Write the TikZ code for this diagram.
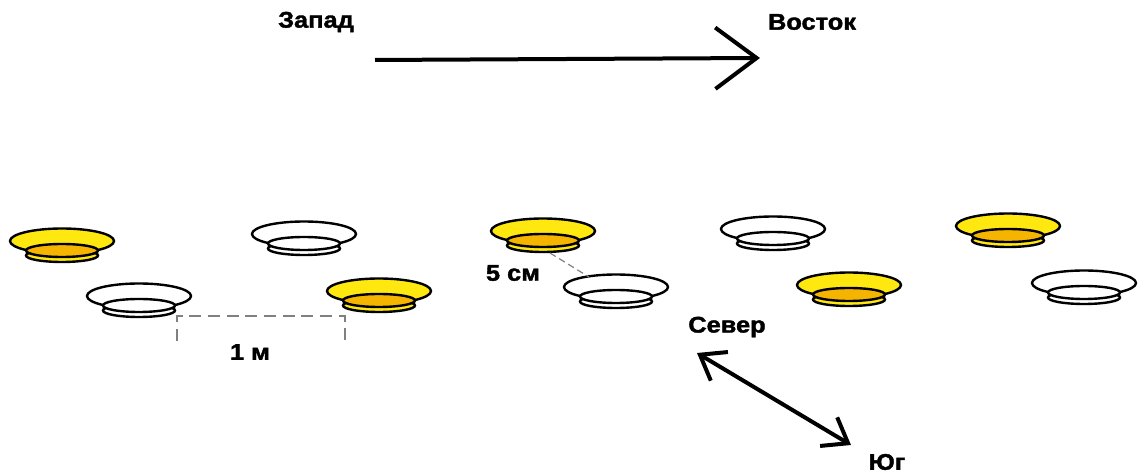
\documentclass[tikz,border=0pt]{standalone}
\usepackage{fontspec}
\setmainfont{Liberation Sans}[BoldFeatures={FakeBold=1.6}]
\usetikzlibrary{arrows.meta}
\definecolor{plateyellow}{HTML}{FFE810}
\definecolor{wellorange}{HTML}{F5B400}
\tikzset{
  lbl/.style={font=\bfseries\fontsize{17}{20}\selectfont, inner sep=0pt, xscale=1.12},
  rim/.style={draw=black, line width=1.8pt},
  bigarrow/.style={line width=3pt, -{Straight Barb[length=31pt,width=46pt,line width=3pt]}},
  diagarrow/.style={line width=3pt, {Straight Barb[length=17pt,width=25pt,line width=3pt]}-{Straight Barb[length=17pt,width=25pt,line width=3pt]}},
  measure/.style={draw=gray, line width=1pt, dash pattern=on 9pt off 5pt},
}
\newcommand\myplate[4]{%
  \filldraw[rim, fill=#3] (#1,#2+14.5) ellipse [x radius=36, y radius=6.5];
  \filldraw[rim, fill=#3] (#1,#2) ellipse [x radius=52, y radius=12.5];
  \filldraw[rim, fill=#4] (#1,#2+9.5) ellipse [x radius=36, y radius=6.5];
}
\begin{document}
\begin{tikzpicture}[x=0.75pt, y=-0.75pt]
\useasboundingbox (0,0) rectangle (1143,473);
% plates
\myplate{62}{241}{plateyellow}{wellorange}
\myplate{139}{296}{white}{white}
\myplate{304}{234}{white}{white}
\myplate{379}{291}{plateyellow}{wellorange}
\myplate{543}{231}{plateyellow}{wellorange}
\myplate{616}{287}{white}{white}
\myplate{773}{229}{white}{white}
\myplate{849}{285}{plateyellow}{wellorange}
\myplate{1008}{226}{plateyellow}{wellorange}
\myplate{1084}{283}{white}{white}
% labels
\node[lbl] (west) at (316,22) {Запад};
\node[lbl] (east) at (812,22) {Восток};
\node[lbl] (north) at (727,327) {Север};
\node[lbl] (south) at (887,462) {Юг};
\node[lbl] (onem) at (250,352) {1 м};
\node[lbl] (fivecm) at (513,273) {5 см};
% arrows
\coordinate (ew1) at (375,60);
\coordinate (ew2) at (760,58);
\draw[bigarrow] (ew1) -- (ew2);
\coordinate (ns1) at (697,353);
\coordinate (ns2) at (851,445);
\draw[diagarrow] (ns1) -- (ns2);
% measurements
\coordinate (m1) at (177,341);
\coordinate (m2) at (177,316);
\coordinate (m3) at (345,316);
\coordinate (m4) at (345,341);
\draw[measure] (m1) -- (m2) -- (m3) -- (m4);
\coordinate (d1) at (550,253);
\coordinate (d2) at (589,277);
\draw[gray, line width=0.9pt, dash pattern=on 5pt off 3pt] (d1) -- (d2);
\end{tikzpicture}
\end{document}
